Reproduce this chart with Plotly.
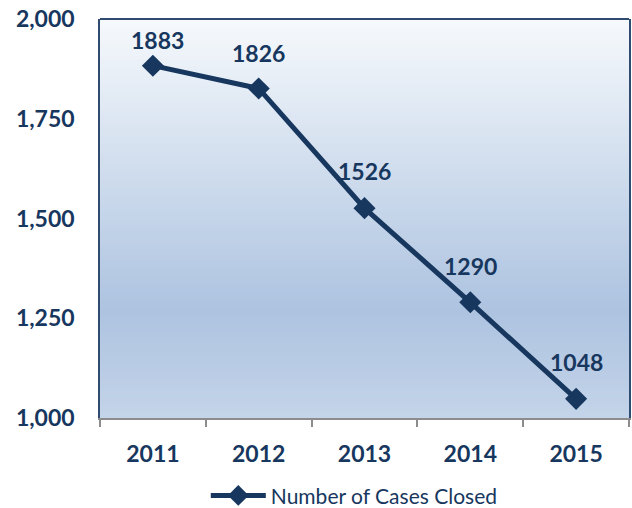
import plotly.graph_objects as go

years = ["2011", "2012", "2013", "2014", "2015"]
cases = [1883, 1826, 1526, 1290, 1048]
y_ticks = [1000, 1250, 1500, 1750, 2000]
y_tick_text = ["1,000", "1,250", "1,500", "1,750", "2,000"]
series_name = "Number of Cases Closed"

# label placement (pixels above / right of each marker)
label_dy = [26, 35, 37, 36, 37]
label_dx = [5, 0, 0, 0, 0]

NAVY = "#17375e"
FONT = "Lato"


def hex2rgb(h):
    h = h.lstrip("#")
    return tuple(int(h[i:i + 2], 16) for i in (0, 2, 4))


def lerp(c1, c2, t):
    a, b = hex2rgb(c1), hex2rgb(c2)
    return "rgb(%d,%d,%d)" % tuple(round(a[i] + (b[i] - a[i]) * t) for i in range(3))


# vertical gradient stops (paper y from bottom, color)
stops = [(0.0, "#c4d4e9"), (0.27, "#adc3e0"), (1.0, "#f6f9fc")]
shapes = []
N = 120
for i in range(N):
    y0 = i / N
    y1 = (i + 1) / N
    ym = (y0 + y1) / 2
    for j in range(len(stops) - 1):
        if stops[j][0] <= ym <= stops[j + 1][0]:
            t = (ym - stops[j][0]) / (stops[j + 1][0] - stops[j][0])
            col = lerp(stops[j][1], stops[j + 1][1], t)
            break
    shapes.append(dict(type="rect", xref="paper", yref="paper", x0=0, x1=1,
                       y0=y0, y1=min(1, y1 + 0.002), fillcolor=col, line=dict(width=0),
                       layer="below"))
# top border
shapes.append(dict(type="line", xref="paper", yref="paper", x0=0, x1=1, y0=1, y1=1,
                   line=dict(color="#2f4b70", width=2), layer="above"))

fig = go.Figure()
fig.add_trace(go.Scatter(
    x=years, y=cases, mode="lines+markers", name=series_name,
    line=dict(color=NAVY, width=5),
    marker=dict(symbol="diamond", size=17, color=NAVY),
    cliponaxis=False,
))

for i, (yr, v) in enumerate(zip(years, cases)):
    fig.add_annotation(
        x=i, y=v, xref="x", yref="y", text="<b>%d</b>" % v, showarrow=False,
        yshift=label_dy[i], xshift=label_dx[i],
        font=dict(family=FONT, size=23, color=NAVY),
    )

fig.update_layout(
    width=632, height=508,
    margin=dict(l=100, r=3, t=19, b=90, autoexpand=False),
    paper_bgcolor="white",
    plot_bgcolor="rgba(0,0,0,0)",
    shapes=shapes,
    font=dict(family=FONT, color=NAVY),
    showlegend=True,
    legend=dict(orientation="h", x=0.2, xanchor="left", y=-0.195, yanchor="middle",
                font=dict(family=FONT, size=21, color=NAVY), itemwidth=55,
                bgcolor="rgba(0,0,0,0)"),
    xaxis=dict(
        type="category", range=[-0.5, 4.5], showgrid=False, zeroline=False,
        showline=True, linecolor="#8c8c8c", linewidth=2, automargin=False,
        ticks="outside", tickson="boundaries", ticklen=7, tickcolor="#8c8c8c", tickwidth=2,
        tickfont=dict(family=FONT, size=23, color=NAVY, weight="bold"),
        ticklabelstandoff=14,
    ),
    yaxis=dict(
        range=[1000, 2000], tickvals=y_ticks, ticktext=y_tick_text,
        showgrid=False, zeroline=False, automargin=False,
        showline=True, linecolor="#2f4b70", linewidth=1.5, mirror=True,
        ticks="", tickfont=dict(family=FONT, size=23, color=NAVY, weight="bold"),
        ticklabelstandoff=19, ticklabeloverflow="allow",
    ),
)

fig.write_html(
    "out.html",
    config={"displayModeBar": False},
    post_script="document.body.style.margin='0';document.body.style.overflow='hidden';",
)
